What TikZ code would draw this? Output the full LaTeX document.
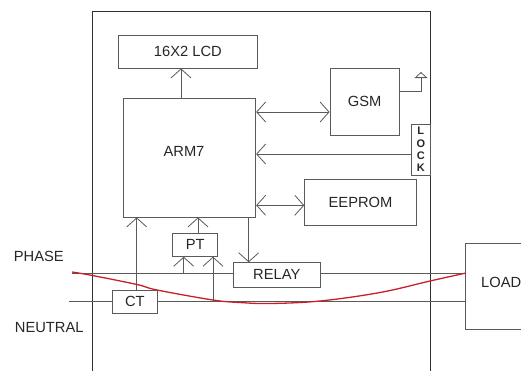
\documentclass[tikz,border=0pt]{standalone}
\usepackage{fontspec}
\setmainfont{Liberation Sans}
\usetikzlibrary{arrows.meta}
\definecolor{ln}{HTML}{5A5A5A}
\definecolor{fr}{HTML}{303030}
\definecolor{rd}{HTML}{C8202A}
\begin{document}
\begin{tikzpicture}[x=1pt,y=-1pt,
  box/.style={draw=ln, line width=0.8pt, rectangle, inner sep=0pt,
    font=\fontsize{14.7}{16}\selectfont, text=black!85},
  wire/.style={draw=ln, line width=0.8pt},
  barb/.tip={Straight Barb[length=9pt,width=20pt,line width=0.8pt]},
  arr/.style={wire, -barb},
  darr/.style={wire, barb-barb},
  lbl/.style={font=\fontsize{14.7}{16}\selectfont, text=black!85, inner sep=0pt}]
\clip (0,0) rectangle (521,370);
\useasboundingbox (0,0) rectangle (521,370);

% frame
\draw[fr, line width=0.9pt] (92.5,375) -- (92.5,11) -- (430,11) -- (430,375);

% blocks
\node[box, minimum width=139.7pt, minimum height=33pt] (lcd) at (187.85,51.5) {16X2 LCD};
\node[box, minimum width=132.4pt, minimum height=118.7pt] (arm) at (189.5,157.65) {};
\node[lbl] (armtxt) at (184,151) {ARM7};
\node[box, minimum width=69.3pt, minimum height=67.7pt] (gsm) at (364.65,101.85) {GSM};
\node[box, minimum width=18.3pt, minimum height=51pt, align=center,
  font=\bfseries\fontsize{11}{12.4}\selectfont] (lock) at (420.85,149.5) {L\\O\\C\\K};
\node[box, minimum width=111.6pt, minimum height=46pt] (eeprom) at (360.5,202.7) {EEPROM};
\node[box, minimum width=45pt, minimum height=23pt] (pt) at (195.2,244.8) {PT};
\node[box, minimum width=87pt, minimum height=24.3pt] (relay) at (276.8,274.85) {RELAY};
\node[box, minimum width=44.3pt, minimum height=23pt] (ct) at (134.85,301.5) {CT};
\node[box, minimum width=64.3pt, minimum height=85.7pt] (load) at (497.9,286.15) {};
\node[lbl, anchor=west] (loadtxt) at (481,282.7) {LOAD};

\node[lbl, anchor=west] (phase) at (13.7,256) {PHASE};
\node[lbl, anchor=west] (neutral) at (14.7,328) {NEUTRAL};

% helper coordinates
\coordinate (xlcd) at (181,0);
\coordinate (ygsm) at (0,112);
\coordinate (ylock) at (0,154);
\coordinate (yee) at (0,205.3);
\coordinate (xpt) at (198,0);
\coordinate (xrel) at (248.7,0);
\coordinate (xct) at (136.7,0);
\coordinate (xph) at (183.7,0);
\coordinate (xne) at (213,0);
\coordinate (phaseL) at (72,273);
\coordinate (neutL) at (69,301.5);
\coordinate (ant) at (421,91);
\coordinate (antT) at (421,72);

% connectors
\draw[arr] (arm.north -| xlcd) -- (lcd.south -| xlcd);
\draw[darr] (arm.east |- ygsm) -- (gsm.west |- ygsm);
\draw[wire, -{Triangle[open,length=6pt,width=13pt]}] (gsm.east |- ant) -- (ant) -- (antT);
\draw[arr] (lock.west |- ylock) -- (arm.east |- ylock);
\draw[darr] (arm.east |- yee) -- (eeprom.west |- yee);
\draw[arr] (pt.north -| xpt) -- (arm.south -| xpt);
\draw[arr] (arm.south -| xrel) -- (relay.north -| xrel);
\draw[arr] (ct.north -| xct) -- (arm.south -| xct);
\draw[arr] (phaseL -| xph) -- (pt.south -| xph);
\draw[arr] (neutL -| xne) -- (pt.south -| xne);

% mains lines
\draw[wire] (phaseL) -- (relay.west |- phaseL);
\draw[wire] (relay.east |- phaseL) -- (load.west |- phaseL);
\draw[wire] (neutL) -- (ct.west);
\draw[wire] (ct.east) -- (load.west |- neutL);

% red curve
\draw[rd, line width=1.3pt] plot[smooth, tension=0.6] coordinates
  {(72,272) (92.5,275.5) (137,284.5) (157,290) (213,300) (240,302.5) (270,303.5) (320,301) (380,292.5) (430,281) (466,273)};
\end{tikzpicture}
\end{document}
